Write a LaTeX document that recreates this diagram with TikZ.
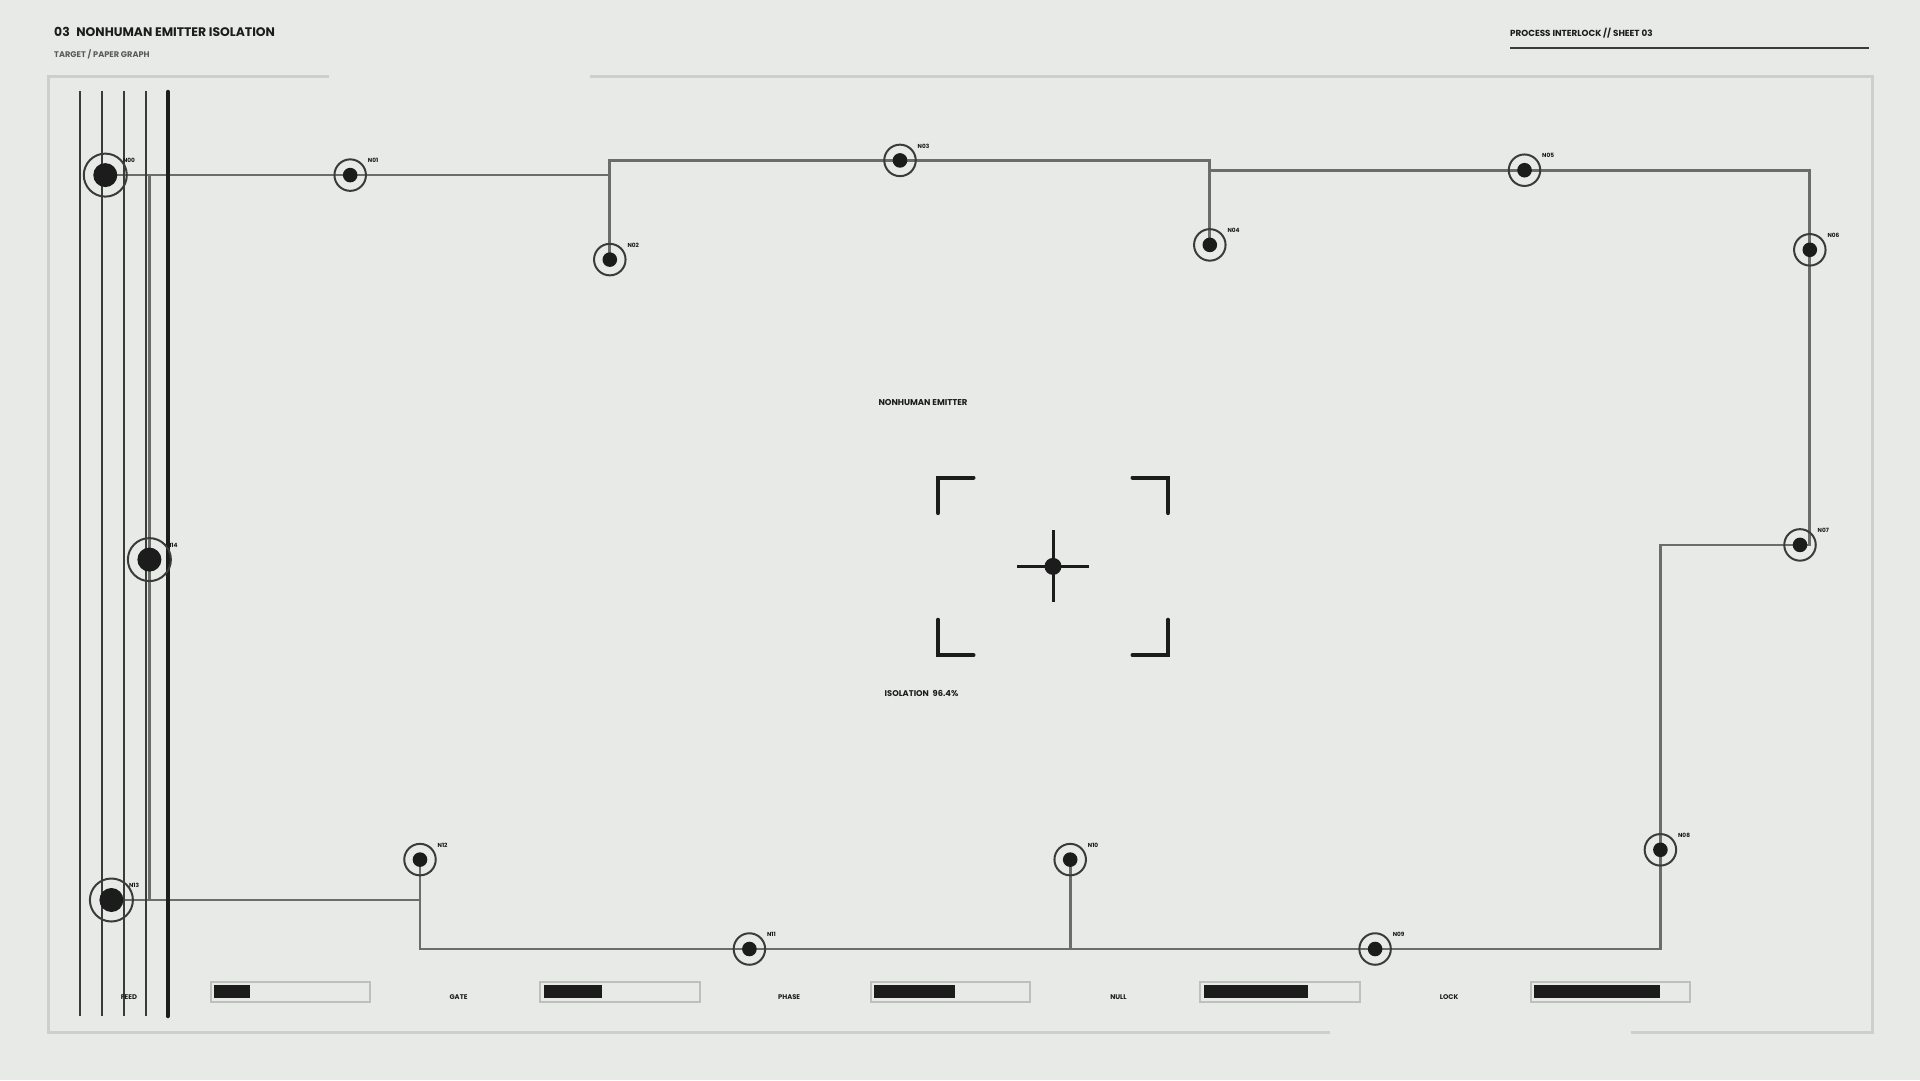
\documentclass[tikz,border=0pt]{standalone}
\usepackage{fontspec}
\setmainfont{Poppins}
\usetikzlibrary{calc}
\definecolor{bgc}{HTML}{E8EAE7}
\definecolor{linec}{HTML}{6B6D6A}
\definecolor{ringc}{HTML}{3A3C3A}
\definecolor{dotc}{HTML}{1B1C1B}
\definecolor{framec}{HTML}{CDCFCC}
\definecolor{barc}{HTML}{BEC0BD}
\definecolor{subc}{HTML}{5A5C5A}
\pgfdeclarelayer{back}
\pgfdeclarelayer{edges}
\pgfsetlayers{back,edges,main}
\tikzset{
  ringnode/.style={circle, draw=ringc, line width=2pt, minimum size=31.5pt, inner sep=0pt},
  bigring/.style={circle, draw=ringc, line width=2pt, minimum size=43pt, inner sep=0pt},
  nlabel/.style={anchor=west, inner sep=0pt, text=dotc, font=\bfseries\fontsize{5.8}{6}\selectfont},
  edge/.style={draw=linec, line width=2.7pt},
  thinbar/.style={draw=ringc, line width=2pt},
  thickbar/.style={draw=dotc, line width=4.5pt, line cap=round},
  bracket/.style={draw=dotc, line width=4pt, line cap=round, line join=miter},
  framel/.style={draw=framec, line width=3pt},
  gaugebox/.style={draw=barc, line width=2pt},
  glabel/.style={anchor=base, inner sep=0pt, text=dotc, font=\bfseries\fontsize{6.8}{7}\selectfont},
}
\begin{document}
\begin{tikzpicture}[x=1pt,y=-1pt]
\begin{pgfonlayer}{back}
\fill[bgc] (0,0) rectangle (1920,1080);
\end{pgfonlayer}
\useasboundingbox (0,0) rectangle (1920,1080);

% frame
\draw[framel] (329,76.5) -- (48.3,76.5) -- (48.3,1032.5) -- (1330,1032.5);
\draw[framel] (590,76.5) -- (1872,76.5) -- (1872,1032.5) -- (1631,1032.5);

% header
\node[anchor=base west, inner sep=0pt, text=dotc, font=\bfseries\fontsize{12.4}{14}\selectfont] (title) at (54,36) {03\hspace{4pt} NONHUMAN EMITTER ISOLATION};
\node[anchor=base west, inner sep=0pt, text=subc, font=\bfseries\fontsize{8.2}{9}\selectfont] (sub) at (54,57.3) {TARGET / PAPER GRAPH};
\node[anchor=base west, inner sep=0pt, text=dotc, font=\bfseries\fontsize{8.8}{9}\selectfont] (sheet) at (1510,36) {PROCESS INTERLOCK // SHEET 03};
\draw[draw=ringc, line width=2pt] (1510,48) -- (1869,48);

% left vertical bars
\foreach \xx in {80,102,124,146} \draw[thinbar] (\xx,91) -- (\xx,1016);
\draw[thickbar] (168,92) -- (168,1016);

% nodes
\node[bigring] (n00) at (105.3,175.1) {};
\node[ringnode] (n01) at (350.2,175.1) {};
\node[ringnode] (n02) at (609.8,259.6) {};
\node[ringnode] (n03) at (900,160.4) {};
\node[ringnode] (n04) at (1209.8,244.9) {};
\node[ringnode] (n05) at (1524.5,170.2) {};
\node[ringnode] (n06) at (1809.8,249.8) {};
\node[ringnode] (n07) at (1800,544.9) {};
\node[ringnode] (n08) at (1660.4,849.8) {};
\node[ringnode] (n09) at (1375.1,949) {};
\node[ringnode] (n10) at (1070.2,859.6) {};
\node[ringnode] (n11) at (749.4,949) {};
\node[ringnode] (n12) at (420,859.6) {};
\node[bigring] (n13) at (111.4,900) {};
\node[bigring] (n14) at (149.4,559.6) {};

\foreach \n in {n01,n02,n03,n04,n05,n06,n07,n08,n09,n10,n11,n12}
  \fill[dotc] (\n.center) circle (7.3);
\foreach \n in {n00,n13,n14}
  \fill[dotc] (\n.center) circle (12);

\foreach \n/\t in {n00/N00,n01/N01,n02/N02,n03/N03,n04/N04,n05/N05,n06/N06,n07/N07,n08/N08,n09/N09,n10/N10,n11/N11,n12/N12,n13/N13,n14/N14}
  \node[nlabel] (l\n) at ($(\n.center)+(17.5,-14.5)$) {\t};

% connectors
\begin{pgfonlayer}{edges}
\draw[edge] (n00.center) -- (n01.center);
\draw[edge] (n01.center) -| (n02.center);
\draw[edge] (n02.center) |- (n03.center);
\draw[edge] (n03.center) -| (n04.center);
\draw[edge] (n04.center) |- (n05.center);
\draw[edge] (n05.center) -| (n06.center);
\draw[edge] (n06.center) |- (n07.center);
\draw[edge] (n07.center) -| (n08.center);
\draw[edge] (n08.center) |- (n09.center);
\draw[edge] (n09.center) -| (n10.center);
\draw[edge] (n10.center) |- (n11.center);
\draw[edge] (n11.center) -| (n12.center);
\draw[edge] (n12.center) |- (n13.center);
\draw[edge] (n13.center) -| (n14.center);
\draw[edge] (n14.center) |- (n00.center);
\end{pgfonlayer}

% target
\coordinate (tc) at (1053,566.4);
\draw[bracket] ($(tc)+(-115,-53.3)$) -- ($(tc)+(-115,-88.8)$) -- ($(tc)+(-79.5,-88.8)$);
\draw[bracket] ($(tc)+(115,-53.3)$) -- ($(tc)+(115,-88.8)$) -- ($(tc)+(79.5,-88.8)$);
\draw[bracket] ($(tc)+(-115,53.3)$) -- ($(tc)+(-115,88.8)$) -- ($(tc)+(-79.5,88.8)$);
\draw[bracket] ($(tc)+(115,53.3)$) -- ($(tc)+(115,88.8)$) -- ($(tc)+(79.5,88.8)$);
\draw[draw=dotc, line width=3pt] ($(tc)+(-36,0)$) -- ($(tc)+(36,0)$);
\draw[draw=dotc, line width=3pt] ($(tc)+(0,-36)$) -- ($(tc)+(0,36)$);
\fill[dotc] (tc) circle (8.5);
\node[anchor=base west, inner sep=0pt, text=dotc, font=\bfseries\fontsize{8.5}{10}\selectfont] (emit) at (878.3,405.3) {NONHUMAN EMITTER};
\node[anchor=base west, inner sep=0pt, text=dotc, font=\bfseries\fontsize{8.3}{10}\selectfont] (iso) at (884.5,696) {ISOLATION\hspace{2pt} 96.4\%};

% gauges
\foreach \bx/\fw/\lab in {210.5/35.4/FEED, 540/58.5/GATE, 870.6/80.7/PHASE, 1200/104/NULL, 1530.6/126/LOCK}{
  \draw[gaugebox] (\bx,982) rectangle ++(159.5,20);
  \fill[dotc] (\bx+3.8,985.2) rectangle ++(\fw,13.2);
  \node[glabel] at (\bx-81.5,999) {\lab};
}
\end{tikzpicture}
\end{document}
